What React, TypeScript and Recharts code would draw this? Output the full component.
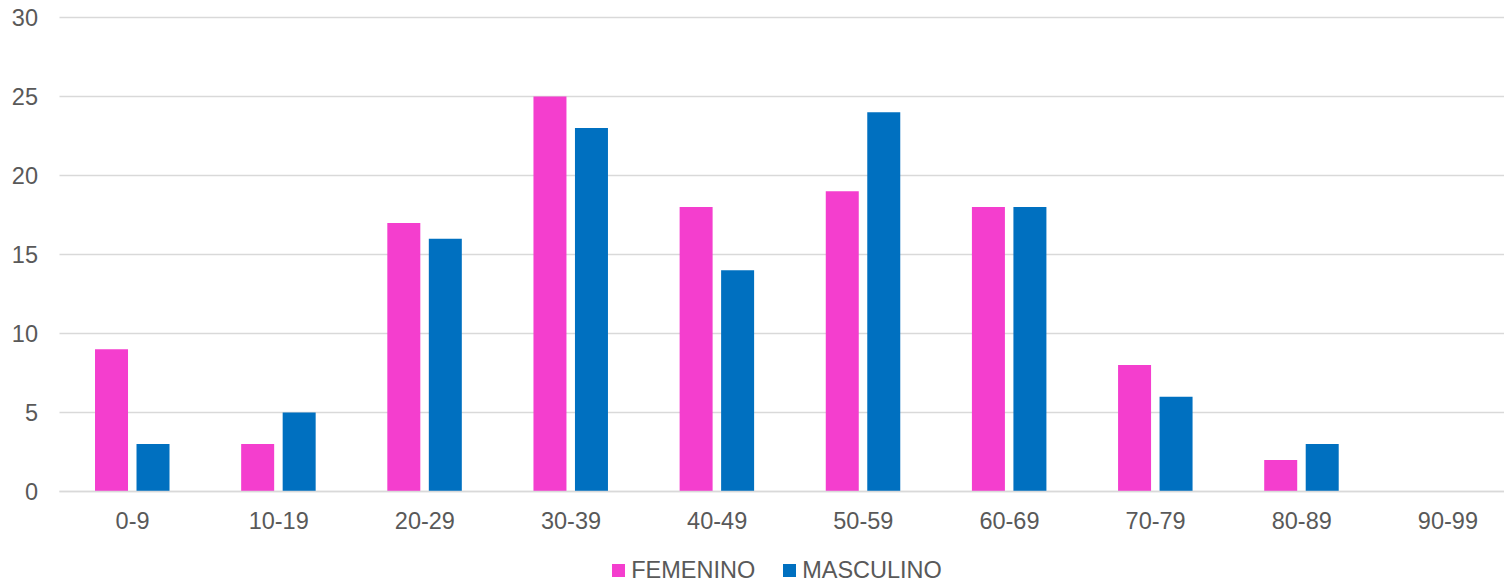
import { Bar, BarChart, CartesianGrid, Legend, XAxis, YAxis } from 'recharts';

const ageGroups = ['0-9', '10-19', '20-29', '30-39', '40-49', '50-59', '60-69', '70-79', '80-89', '90-99'];
const femenino = [9, 3, 17, 25, 18, 19, 18, 8, 2, 0];
const masculino = [3, 5, 16, 23, 14, 24, 18, 6, 3, 0];
const yTicks = [0, 5, 10, 15, 20, 25, 30];

const PINK = '#F43ECE';
const BLUE = '#0070C0';
const TEXT = '#595959';
const GRID = '#D9D9D9';
const FONT = '"Liberation Sans", Arial, sans-serif';

const data = ageGroups.map((g, i) => ({ group: g, FEMENINO: femenino[i], MASCULINO: masculino[i] }));

function LegendRow() {
  const items = [
    { name: 'FEMENINO', color: PINK },
    { name: 'MASCULINO', color: BLUE },
  ];
  return (
    <div style={{ display: 'flex', justifyContent: 'center', alignItems: 'center', height: 24, paddingLeft: 33 }}>
      {items.map((it, i) => (
        <div key={it.name} style={{ display: 'flex', alignItems: 'center', marginLeft: i ? 28 : 0 }}>
          <span style={{ width: 13, height: 13, background: it.color, display: 'inline-block', marginRight: 6 }} />
          <span style={{ fontFamily: FONT, fontSize: 23.5, color: TEXT, lineHeight: '24px' }}>{it.name}</span>
        </div>
      ))}
    </div>
  );
}

export default function App() {
  return (
    <div style={{ position: 'absolute', left: 0, top: 0, width: 1504, height: 582, overflow: 'hidden', background: '#fff' }}>
      <BarChart
        width={1521}
        height={582}
        data={data}
        margin={{ top: 17.5, right: 0, bottom: 0, left: 0 }}
        barCategoryGap="24.3%"
        barGap={8.5}
      >
        <CartesianGrid vertical={false} stroke={GRID} strokeWidth={1.3} />
        <XAxis
          dataKey="group"
          height={66.5}
          tickLine={false}
          tickSize={0}
          tickMargin={21}
          axisLine={{ stroke: GRID, strokeWidth: 1.3 }}
          tick={{ fill: TEXT, fontSize: 23.5, fontFamily: FONT }}
          interval={0}
        />
        <YAxis
          width={59.5}
          domain={[0, 30]}
          ticks={yTicks}
          axisLine={false}
          tickLine={false}
          tickSize={0}
          tickMargin={21.5}
          tick={{ fill: TEXT, fontSize: 23.5, fontFamily: FONT }}
        />
        <Legend verticalAlign="bottom" content={() => <LegendRow />} wrapperStyle={{ left: 0, width: 1521 }} />
        <Bar dataKey="FEMENINO" fill={PINK} isAnimationActive={false} />
        <Bar dataKey="MASCULINO" fill={BLUE} isAnimationActive={false} />
      </BarChart>
    </div>
  );
}
